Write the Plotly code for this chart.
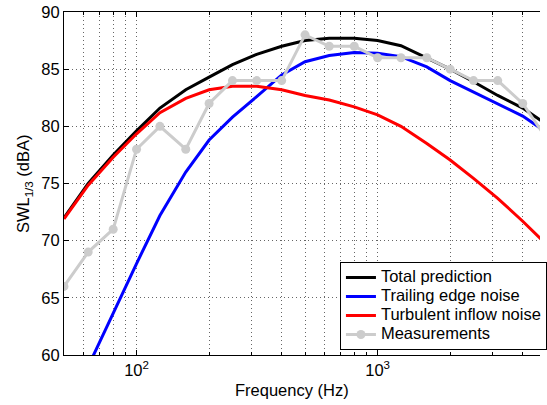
import numpy as np
import plotly.graph_objects as go

freq = [50, 63, 80, 100, 125, 160, 200, 250, 315, 400, 500, 630, 800, 1000,
        1250, 1600, 2000, 2500, 3150, 4000, 5000]
total_pred = [72.0, 75.0, 77.5, 79.6, 81.6, 83.2, 84.3, 85.4, 86.3, 87.0, 87.5,
              87.7, 87.7, 87.5, 87.05, 86.0, 85.0, 83.9, 82.7, 81.6, 80.2]
trailing_edge = [54.5, 59.0, 63.7, 68.0, 72.2, 76.0, 78.8, 80.8, 82.6, 84.5, 85.65,
                 86.2, 86.45, 86.4, 86.1, 85.2, 84.0, 83.0, 82.0, 80.9, 79.5]
turbulent_inflow = [71.9, 74.85, 77.3, 79.35, 81.2, 82.45, 83.2, 83.5, 83.5, 83.2, 82.7,
                    82.3, 81.7, 81.0, 80.0, 78.5, 77.05, 75.45, 73.7, 71.7, 69.7]
measurements = [66, 69, 71, 78, 80, 78, 82, 84, 84, 84, 88, 87, 87, 86, 86, 86,
                85, 84, 84, 82, 79]
series_names = ["Total prediction", "Trailing edge noise",
                "Turbulent inflow noise", "Measurements"]

major_x = [100, 1000]
major_x_text = ["10<sup>2</sup>", "10<sup>3</sup>"]
minor_x = [50, 60, 70, 80, 90, 200, 300, 400, 500, 600, 700, 800, 900,
           2000, 3000, 4000, 5000]
y_ticks = [60, 65, 70, 75, 80, 85, 90]

FONT = "Liberation Sans, Arial, Helvetica, sans-serif"
FS = 16.5
LW = 3
GRID = "#666666"
DOT = "1px,3px"

W, H = 547, 405
L, T, B = 64, 12, 405 - 355
PW, PH = W - L, H - T - B


def leg(name):
    return f"<span style='font-size:{FS}px'>{name}</span>"


fig = go.Figure()
fig.add_trace(go.Scatter(x=freq, y=total_pred, mode="lines", name=leg(series_names[0]),
                         line=dict(color="black", width=LW)))
fig.add_trace(go.Scatter(x=freq, y=trailing_edge, mode="lines", name=leg(series_names[1]),
                         line=dict(color="#0000ff", width=LW)))
fig.add_trace(go.Scatter(x=freq, y=turbulent_inflow, mode="lines", name=leg(series_names[2]),
                         line=dict(color="#ff0000", width=LW)))
fig.add_trace(go.Scatter(x=freq, y=measurements, mode="lines+markers", name=leg(series_names[3]),
                         line=dict(color="rgb(204,204,204)", width=LW),
                         marker=dict(color="rgb(204,204,204)", size=9)))

fig.update_layout(
    width=W, height=H,
    margin=dict(l=L, r=0, t=T, b=B, pad=0),
    paper_bgcolor="white", plot_bgcolor="white",
    font=dict(family=FONT, size=FS, color="black"),
    showlegend=True,
    legend=dict(x=(344 - 64) / PW, y=(355 - 350) / PH, xanchor="left", yanchor="bottom",
                bgcolor="white", bordercolor="black", borderwidth=1,
                font=dict(size=12), tracegroupgap=0, itemwidth=30),
    xaxis=dict(type="log", range=[np.log10(50), 3.6737],
               tickvals=major_x, ticktext=major_x_text,
               ticks="inside", ticklen=5, tickcolor="black",
               showline=True, linecolor="black", linewidth=1, mirror="ticks",
               showgrid=True, gridcolor=GRID, griddash=DOT, gridwidth=1,
               minor=dict(tickvals=minor_x, ticks="inside", ticklen=3, tickcolor="black",
                          showgrid=True, gridcolor=GRID, griddash=DOT, gridwidth=1),
               zeroline=False, tickfont=dict(size=FS)),
    yaxis=dict(range=[60, 90], tickvals=y_ticks,
               ticks="inside", ticklen=5, tickcolor="black",
               showline=True, linecolor="black", linewidth=1,
               showgrid=True, gridcolor=GRID, griddash=DOT, gridwidth=1,
               zeroline=False, tickfont=dict(size=FS)),
    annotations=[
        dict(text="Frequency (Hz)", xref="paper", yref="paper",
             x=(295 - 64) / PW, y=-(390 - 355) / PH, xanchor="center", yanchor="middle",
             showarrow=False, font=dict(size=FS)),
        dict(text="SWL<sub>1/3</sub> (dBA)", xref="paper", yref="paper",
             x=-(64 - 23) / PW, y=0.5, xanchor="center", yanchor="middle",
             textangle=-90, showarrow=False, font=dict(size=FS)),
    ],
)

fig.write_html("out.html", config={"displayModeBar": False},
               post_script="document.body.style.margin='0px';document.body.style.overflow='hidden';")
